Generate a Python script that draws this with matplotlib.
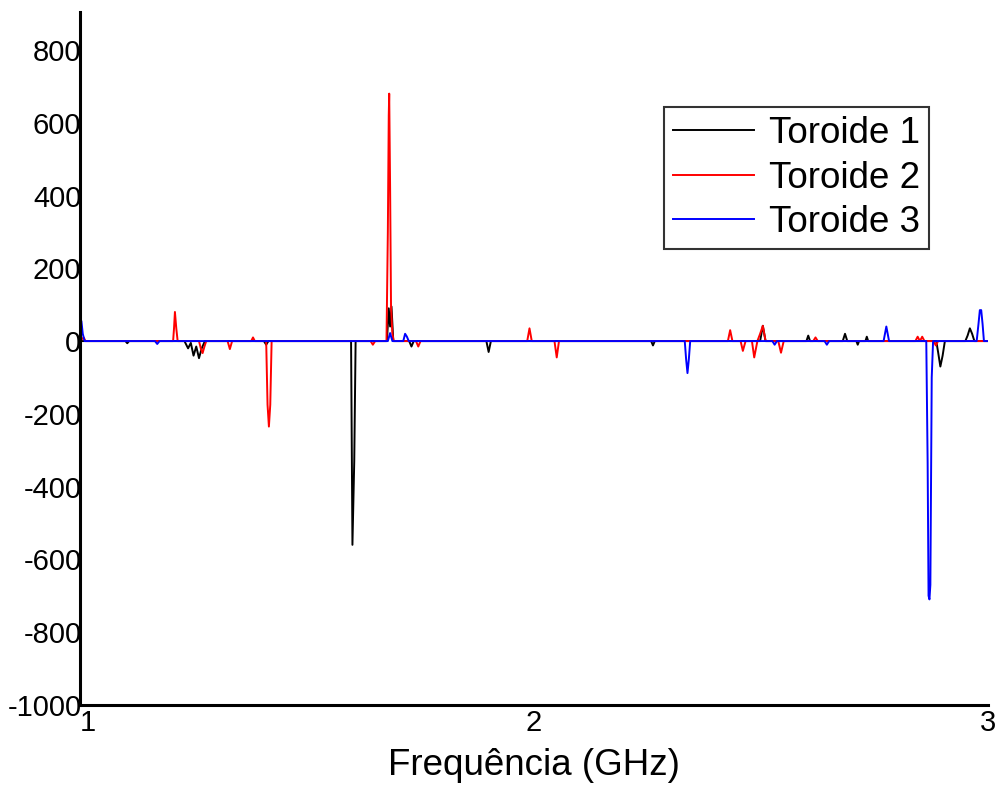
import matplotlib
matplotlib.use('Agg')
import matplotlib.pyplot as plt

plt.rcParams['font.family'] = ['Liberation Sans', 'DejaVu Sans']
plt.rcParams['axes.unicode_minus'] = False

# Toroide 1 (black)
t1_freq = [1.000, 1.100, 1.104, 1.108, 1.230, 1.238, 1.244, 1.250, 1.256, 1.262, 1.268, 1.275,
           1.405, 1.410, 1.415, 1.590, 1.597, 1.600, 1.604, 1.607, 1.676, 1.680, 1.683, 1.686,
           1.690, 1.725, 1.730, 1.735, 1.895, 1.900, 1.905, 2.258, 2.262, 2.266, 2.498, 2.504,
           2.510, 2.600, 2.604, 2.608, 2.680, 2.685, 2.690, 2.710, 2.713, 2.716, 2.730, 2.733,
           2.736, 2.886, 2.890, 2.895, 2.900, 2.905, 2.950, 2.955, 2.960, 2.965, 2.970, 3.000]
t1_vals = [0, 0, -6, 0, 0, -20, -5, -40, -15, -47, -20, 0,
           0, -10, 0, 0, 0, -560, -330, 0, 0, 90, 40, 95,
           0, 0, -15, 0, 0, -30, 0, 0, -12, 0, 0, 42,
           0, 0, 15, 0, 0, 20, 0, 0, -10, 0, 0, 12,
           0, 0, -30, -70, -40, 0, 0, 15, 35, 20, 0, 0]

# Toroide 2 (red)
t2_freq = [1.000, 1.008, 1.012, 1.205, 1.207, 1.209, 1.212, 1.215, 1.262, 1.266, 1.270, 1.274,
           1.278, 1.325, 1.330, 1.335, 1.377, 1.381, 1.385, 1.410, 1.413, 1.416, 1.419, 1.422,
           1.640, 1.645, 1.650, 1.675, 1.678, 1.680, 1.681, 1.683, 1.685, 1.688, 1.691, 1.740,
           1.745, 1.750, 1.985, 1.990, 1.995, 2.045, 2.050, 2.055, 2.427, 2.432, 2.437, 2.455,
           2.460, 2.466, 2.480, 2.485, 2.492, 2.498, 2.504, 2.510, 2.538, 2.544, 2.550, 2.615,
           2.620, 2.625, 2.840, 2.845, 2.850, 2.855, 2.860, 2.880, 2.885, 2.890, 3.000]
t2_vals = [0, 10, 0, 0, 35, 80, 35, 0, 0, -20, -33, -15,
           0, 0, -22, 0, 0, 10, 0, 0, -175, -235, -175, 0,
           0, -10, 0, 0, 300, 620, 680, 420, 95, 20, 0, 0,
           -15, 0, 0, 35, 0, 0, -45, 0, 0, 30, 0, 0,
           -27, 0, 0, -45, 0, 20, 42, 0, 0, -32, 0, 0,
           10, 0, 0, 12, 0, 12, 0, 0, -12, 0, 0]

# Toroide 3 (blue)
t3_freq = [1.000, 1.003, 1.006, 1.010, 1.165, 1.170, 1.175, 1.678, 1.683, 1.688, 1.712, 1.716,
           1.720, 1.724, 2.332, 2.335, 2.338, 2.341, 2.344, 2.525, 2.530, 2.535, 2.640, 2.645,
           2.650, 2.770, 2.773, 2.776, 2.779, 2.782, 2.864, 2.867, 2.869, 2.871, 2.873, 2.876,
           2.879, 2.975, 2.979, 2.982, 2.985, 2.988, 2.991, 3.000]
t3_vals = [0, 55, 20, 0, 0, -8, 0, 0, 22, 0, 0, 20,
           12, 0, 0, -50, -88, -50, 0, 0, -10, 0, 0, -10,
           0, 0, 20, 40, 20, 0, 0, -335, -700, -710, -670, -100,
           0, 0, 47, 85, 85, 47, 0, 0]

series_labels = ['Toroide 1', 'Toroide 2', 'Toroide 3']
series_colors = ['black', 'red', 'blue']

y_ticks = [-1000, -800, -600, -400, -200, 0, 200, 400, 600, 800]
x_ticks = [1, 2, 3]

fig = plt.figure(figsize=(9.98, 7.85), dpi=100)
ax = fig.add_axes([0.0802, 0.102, 0.9098, 0.883])

for f, v, lab, col in zip([t1_freq, t2_freq, t3_freq], [t1_vals, t2_vals, t3_vals],
                          series_labels, series_colors):
    ax.plot(f, v, color=col, lw=1.4, label=lab)

ax.set_xlim(1, 3)
ax.set_ylim(-1000, 905)
ax.set_xticks(x_ticks)
ax.set_xticklabels([str(t) for t in x_ticks])
ax.set_yticks(y_ticks)
ax.tick_params(axis='both', length=0, labelsize=21)
ax.tick_params(axis='y', pad=-1)
ax.tick_params(axis='x', pad=3)
# the "1" label sits just right of the corner, half hidden in the original
ax.get_xticklabels()[0].set_horizontalalignment('left')

for side in ['top', 'right']:
    ax.spines[side].set_visible(False)
for side in ['left', 'bottom']:
    ax.spines[side].set_linewidth(2.2)

ax.set_xlabel('Frequência (GHz)', fontsize=26.5, labelpad=8)

leg = ax.legend(loc='upper right', bbox_to_anchor=(0.935, 0.863), borderaxespad=0,
                fontsize=26.5, frameon=True, fancybox=False, handlelength=2.2,
                handletextpad=0.4, labelspacing=0.26, borderpad=0.25)
leg.get_frame().set_edgecolor('black')
leg.get_frame().set_linewidth(1.5)

fig.savefig('out.png', dpi=100)
